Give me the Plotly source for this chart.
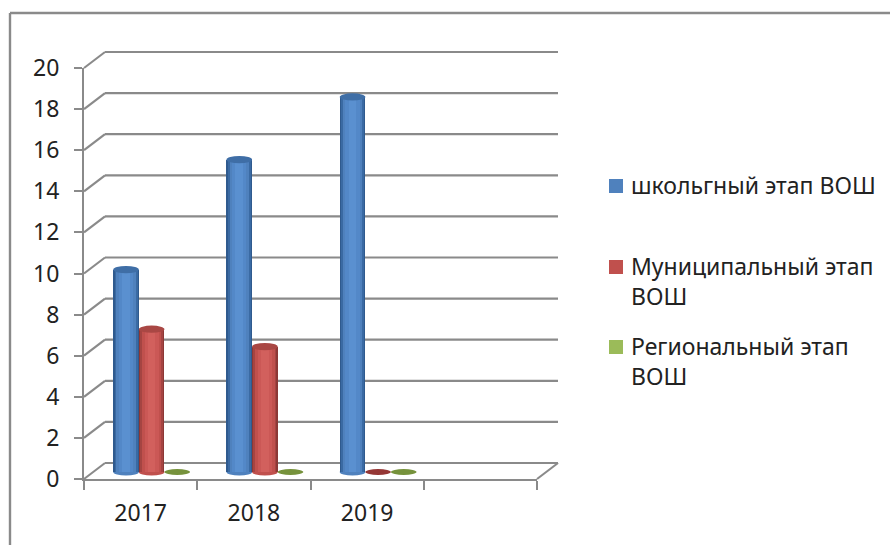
import plotly.graph_objects as go

categories = ["2017", "2018", "2019", " "]
school = [9.85, 15.2, 18.25]
municipal = [6.95, 6.1, 0]
regional = [0, 0, 0]
names = ["школьгный этап ВОШ", "Муниципальный этап<br>ВОШ", "Региональный этап<br>ВОШ"]
y_ticks = list(range(0, 21, 2))

W, H = 890, 545
X0, X1, Y0, Y1 = 84, 537, 479, 68      # front plane of the plot, px
DX, DY = 21, 16                        # depth of the box, px
BX, BY = 11, 7                         # bars stand mid-depth
GRID = "#8a8a8a"
TEXT = "#222222"
FONT = "Noto Sans"
N = len(categories)
UNIT = (Y0 - Y1) / 20                  # px per value unit

px = lambda v: v / W
py = lambda v: 1 - v / H


def yp(v):
    return Y0 + (Y1 - Y0) * v / 20


def line(x0, y0, x1, y1, w=2.2, color=GRID):
    return dict(type="line", xref="paper", yref="paper", layer="below",
                x0=px(x0), x1=px(x1), y0=py(y0), y1=py(y1),
                line=dict(color=color, width=w))


shapes = [
    line(10, 13, 10, H + 5, 2.4), line(10, 13, W + 5, 13, 2.4),
    line(X1, Y0, X1 + DX, Y0 - DY),
]
for t in y_ticks:
    shapes.append(line(X0, yp(t), X0 + DX, yp(t) - DY))
    shapes.append(line(X0 + DX, yp(t) - DY, X1 + DX, yp(t) - DY))

series = [
    dict(v=school, name=names[0], col="#4F81BD", cap="#3f6ea6", flat="#3f6ea6",
         layers=[(1.0, "#2f5a8e"), (0.9, "#3a6aa3"), (0.76, "#4F81BD"), (0.55, "#5388c8"), (0.3, "#5a90d0")]),
    dict(v=municipal, name=names[1], col="#C0504D", cap="#a94744", flat="#953735",
         layers=[(1.0, "#8c3836"), (0.9, "#a54442"), (0.76, "#C0504D"), (0.55, "#cb5856"), (0.3, "#d2605d")]),
    dict(v=regional, name=names[2], col="#9BBB59", cap="#76923c", flat="#76923c",
         layers=[(1.0, "#9BBB59")]),
]
BAR_W = 0.226
RY = 3.6 / UNIT

fig = go.Figure()
fig.add_trace(go.Scatter(x=categories, y=[None] * N, xaxis="x", yaxis="y",
                         showlegend=False, hoverinfo="skip"))

for s_i, s in enumerate(series):
    group_off = (s_i - 1) * BAR_W
    for frac, color in s["layers"]:
        w = BAR_W * frac
        fig.add_trace(go.Bar(
            x=list(range(len(s["v"]))), y=s["v"], xaxis="x2", yaxis="y2",
            width=w, offset=group_off - w / 2,
            marker=dict(color=color, line=dict(width=0)),
            name=s["name"].replace("<br>", " "), showlegend=False,
        ))
    for i, v in enumerate(s["v"]):
        cx = i + group_off
        rx = BAR_W / 2
        if v == 0:
            shapes.append(dict(type="circle", xref="x2", yref="y2", layer="above",
                               x0=cx - rx, x1=cx + rx, y0=-RY * 0.8, y1=RY * 0.8,
                               fillcolor=s["flat"], line=dict(width=0)))
            continue
        shapes.append(dict(type="circle", xref="x2", yref="y2", layer="below",
                           x0=cx - rx, x1=cx + rx, y0=-RY, y1=RY,
                           fillcolor=s["col"], line=dict(width=0)))
        shapes.append(dict(type="circle", xref="x2", yref="y2", layer="above",
                           x0=cx - rx, x1=cx + rx, y0=v - RY, y1=v + RY,
                           fillcolor=s["cap"], line=dict(width=0)))

# legend block: swatch + text, first line level with the swatch
legend_first_line = [186, 267, 347]
annotations = []
for s, yc in zip(series, legend_first_line):
    shapes.append(dict(type="rect", xref="paper", yref="paper", layer="above",
                       x0=px(609), x1=px(623), y0=py(yc + 7), y1=py(yc - 7),
                       fillcolor=s["col"], line=dict(width=0)))
    annotations.append(dict(xref="paper", yref="paper", x=px(630), y=py(yc - 18),
                            xanchor="left", yanchor="top", align="left",
                            text=s["name"], showarrow=False, borderpad=0,
                            font=dict(family=FONT, size=23, color=TEXT)))

axis_common = dict(showgrid=False, zeroline=False, linecolor=GRID, linewidth=2.2,
                   tickcolor=GRID, tickwidth=2.2, ticks="outside",
                   tickfont=dict(family=FONT, size=23, color=TEXT))

fig.update_layout(
    width=W, height=H, margin=dict(l=0, r=0, t=0, b=0, pad=0, autoexpand=False),
    paper_bgcolor="white", plot_bgcolor="rgba(0,0,0,0)",
    barmode="overlay", shapes=shapes, annotations=annotations, bargap=0, showlegend=False,
    xaxis=dict(domain=[px(X0), px(X1)], anchor="y", type="category",
               categoryorder="array", categoryarray=categories,
               range=[-0.5, N - 0.5], tickson="boundaries", ticklen=9,
               ticklabelstandoff=12, showline=True, fixedrange=True, **axis_common),
    yaxis=dict(domain=[py(Y0), py(Y1)], anchor="x", range=[0, 20], tickvals=y_ticks,
               ticklen=8, ticklabelstandoff=10, showline=True, fixedrange=True, **axis_common),
    xaxis2=dict(domain=[px(X0 + BX), px(X1 + BX)], anchor="y2", range=[-0.5, N - 0.5],
                visible=False, fixedrange=True),
    # runs one unit below zero so the round feet of the cylinders are not clipped
    yaxis2=dict(domain=[py(Y0 - BY + UNIT), py(Y1 - BY)], anchor="x2", range=[-1, 20],
                visible=False, fixedrange=True),
)

fig.write_html("out.html", config=dict(displayModeBar=False),
               post_script="document.body.style.margin='0';document.body.style.overflow='hidden';")
